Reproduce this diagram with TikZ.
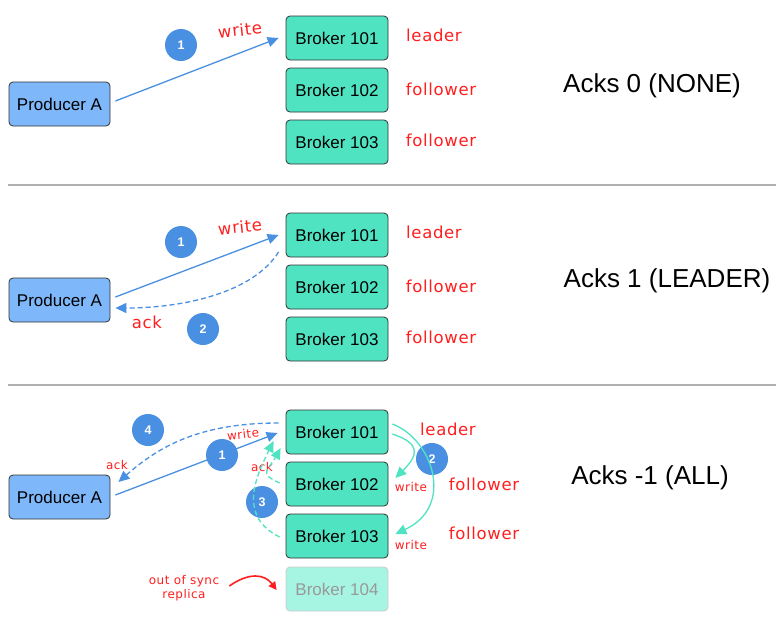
\documentclass[tikz,border=0pt]{standalone}
\usepackage{fontspec}
\setmainfont{Liberation Sans}
\newfontfamily\hand[LetterSpace=4]{DejaVu Sans}
\usetikzlibrary{arrows.meta}
\definecolor{prodblue}{HTML}{7EB8FA}
\definecolor{teal}{HTML}{50E3C2}
\definecolor{paleteal}{HTML}{A6F5E2}
\definecolor{numblue}{HTML}{4A90E2}
\definecolor{redlab}{HTML}{FF1F1F}
\definecolor{sepgray}{HTML}{B0B0B0}
\tikzset{
  producer/.style={draw=black!80, fill=prodblue, rounded corners=4pt, line width=0.8pt,
    minimum width=101pt, minimum height=44pt, inner sep=0pt, font=\fontsize{17}{20}\selectfont},
  broker/.style={draw=black!80, fill=teal, rounded corners=4pt, line width=0.8pt,
    minimum width=102pt, minimum height=44pt, inner sep=0pt, font=\fontsize{17}{20}\selectfont},
  oldbroker/.style={broker, draw=black!20, fill=paleteal, text=black!40},
  num/.style={circle, fill=numblue, minimum size=32pt, inner sep=0pt, text=white,
    font=\bfseries\fontsize{12.5}{14}\selectfont},
  role/.style={text=redlab, font=\hand\fontsize{16.5}{18}\selectfont, inner sep=0pt},
  smallred/.style={text=redlab, font=\hand\fontsize{12}{13.5}\selectfont, inner sep=0pt, align=center},
  title/.style={font=\fontsize{26}{30}\selectfont, inner sep=0pt},
  tip/.style={-{Triangle[length=11pt,width=10pt]}},
  bluearrow/.style={tip, draw=numblue, line width=1.3pt},
  bluedash/.style={bluearrow, dash pattern=on 5pt off 3pt},
  tealarrow/.style={tip, draw=teal, line width=1.3pt},
  tealdash/.style={tealarrow, dash pattern=on 5pt off 3pt},
  sep/.style={draw=sepgray, line width=1.5pt}
}
\begin{document}
\begin{tikzpicture}[x=1pt, y=-1pt]
\path[use as bounding box, fill=white] (0,0) rectangle (779,619);

% ---------------- section 1 ----------------
\node[producer] (pA1) at (59.5,104) {Producer A};
\node[broker] (b101a) at (337,38) {Broker 101};
\node[broker] (b102a) at (337,90) {Broker 102};
\node[broker] (b103a) at (337,142) {Broker 103};
\node[role] (l1a) at (434,35) {leader};
\node[role] (f2a) at (441,89) {follower};
\node[role] (f3a) at (441,140) {follower};
\node[title] (t1) at (652,86) {Acks 0 (NONE)};
\node[num] (n1a) at (181,45) {1};
\node[role, rotate=6] (w1a) at (240,30) {write};
\draw[bluearrow] ([shift={(5,-3)}]pA1.east) -- ([shift={(-7,0)}]b101a.west);
\coordinate (s1l) at (8,185);
\coordinate (s1r) at (776,185);
\draw[sep] (s1l) -- (s1r);

% ---------------- section 2 ----------------
\node[producer] (pA2) at (59.5,300) {Producer A};
\node[broker] (b101b) at (337,235) {Broker 101};
\node[broker] (b102b) at (337,287) {Broker 102};
\node[broker] (b103b) at (337,339) {Broker 103};
\node[role] (l1b) at (434,232) {leader};
\node[role] (f2b) at (441,286) {follower};
\node[role] (f3b) at (441,337) {follower};
\node[title] (t2) at (667,281) {Acks 1 (LEADER)};
\node[num] (n1b) at (181,242) {1};
\node[num] (n2b) at (203,329) {2};
\node[role, rotate=6] (w1b) at (240,227) {write};
\node[role] (ackb) at (147,322) {ack};
\draw[bluearrow] ([shift={(5,-3)}]pA2.east) -- ([shift={(-7,0)}]b101b.west);
\draw[bluedash] ([shift={(-7,17)}]b101b.west) .. controls +(-25,40) and +(70,0) .. ([shift={(5,8)}]pA2.east);
\coordinate (s2l) at (8,385);
\coordinate (s2r) at (776,385);
\draw[sep] (s2l) -- (s2r);

% ---------------- section 3 ----------------
\node[producer] (pA3) at (59.5,497) {Producer A};
\node[broker] (b101c) at (337,432) {Broker 101};
\node[broker] (b102c) at (337,484) {Broker 102};
\node[broker] (b103c) at (337,536) {Broker 103};
\node[oldbroker] (b104c) at (337,589) {Broker 104};
\node[role] (l1c) at (448,429) {leader};
\node[role] (f2c) at (484,484) {follower};
\node[role] (f3c) at (484,533) {follower};
\node[title] (t3) at (650,478) {Acks -1 (ALL)};

\draw[bluedash] ([shift={(-7,-9)}]b101c.west) .. controls +(-80,0) and +(40,-35) .. ([shift={(8,-15)}]pA3.east);
\draw[bluearrow] ([shift={(5,-2)}]pA3.east) -- ([shift={(-8,1)}]b101c.west);
\node[num] (n4c) at (148,430) {4};
\node[num] (n1c) at (222,455) {1};
\node[num] (n2c) at (432,459) {2};
\node[num] (n3c) at (262,502) {3};
\node[smallred, rotate=6] (w1c) at (243,434) {write};
\node[smallred] (ackc) at (117,465) {ack};
\node[smallred] (ack3c) at (262,467) {ack};
\node[smallred] (w2c) at (411,487) {write};
\node[smallred] (w3c) at (411,545) {write};

\draw[tealdash] ([shift={(-6,-1)}]b102c.west) .. controls +(-22,-10) and +(-12,22) .. ([shift={(-5,16)}]b101c.west);
\draw[tealdash] ([shift={(-6,1)}]b103c.west) .. controls +(-40,-20) and +(-20,40) .. ([shift={(-12,9)}]b101c.west);
\draw[tealarrow] ([shift={(4,2)}]b101c.east) .. controls +(30,10) and +(22,-22) .. ([shift={(7,-6)}]b102c.east);
\draw[tealarrow] ([shift={(4,-8)}]b101c.east) .. controls +(40,15) and +(60,-28) .. ([shift={(7,-2)}]b103c.east);

\node[smallred] (oos) at (184,588) {out of sync\\replica};
\draw[redlab, line width=1.6pt, -{Triangle[length=8pt,width=8pt]}] ([shift={(10,-2)}]oos.east) .. controls +(20,-14) and +(-12,-16) .. ([shift={(-9,1)}]b104c.west);
\end{tikzpicture}
\end{document}
